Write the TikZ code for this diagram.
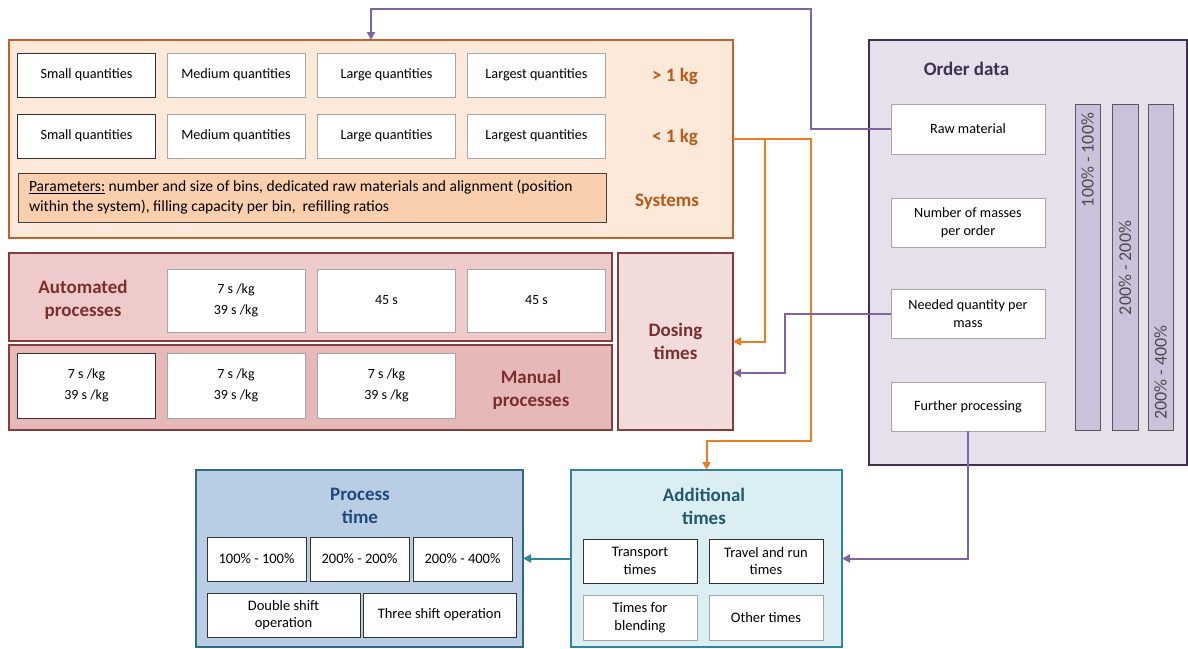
\documentclass[tikz,border=0pt]{standalone}
\usepackage{fontspec}
\setmainfont{Carlito}
\usetikzlibrary{arrows.meta}
\definecolor{sysfill}{HTML}{FDE9D9}
\definecolor{sysline}{HTML}{C0622B}
\definecolor{systext}{HTML}{B85A1A}
\definecolor{parfill}{HTML}{F9CFAD}
\definecolor{autofill}{HTML}{EECACA}
\definecolor{manfill}{HTML}{E6B9B8}
\definecolor{dosfill}{HTML}{F2DCDB}
\definecolor{redline}{HTML}{843C3C}
\definecolor{redtext}{HTML}{7B2E2E}
\definecolor{ordfill}{HTML}{E5E0EC}
\definecolor{ordline}{HTML}{403151}
\definecolor{barfill}{HTML}{CCC1DA}
\definecolor{procfill}{HTML}{B9CDE5}
\definecolor{procline}{HTML}{2F6A88}
\definecolor{proctext}{HTML}{1F497D}
\definecolor{addfill}{HTML}{DBEEF4}
\definecolor{addline}{HTML}{31859C}
\definecolor{addtext}{HTML}{215968}
\definecolor{orangeln}{HTML}{EE7D22}
\definecolor{purpleln}{HTML}{8064A2}
\begin{document}
\begin{tikzpicture}[x=1pt,y=-1pt,
  every node/.style={inner sep=0pt, outer sep=0pt},
  ibox/.style={draw=gray!70, fill=white, line width=0.8pt, minimum height=44pt, minimum width=138pt, align=center, font=\fontsize{14.2}{18}\selectfont},
  dbox/.style={ibox, draw=black!80},
  tbox/.style={font=\fontsize{14}{21}\selectfont},
  lbox/.style={font=\fontsize{14.5}{17.5}\selectfont},
  outer/.style={line width=1.3pt},
  title/.style={font=\fontsize{19}{23}\selectfont\bfseries, align=center},
  conn/.style={line width=2pt, -{Triangle[length=8pt,width=8pt]}},
  bar/.style={draw=black!65, fill=barfill, line width=0.8pt, minimum width=25pt, minimum height=326pt},
  bartext/.style={rotate=90, font=\fontsize{18}{20}\selectfont, text=black!70}
]
\useasboundingbox (0,0) rectangle (1188,648);

% ---- Systems ----
\node[outer, draw=sysline, fill=sysfill, minimum width=724pt, minimum height=198pt] (sys) at (371,139) {};
\node[dbox] (s1) at (86.5,75) {Small quantities};
\node[ibox] (s2) at (236,75) {Medium quantities};
\node[ibox] (s3) at (386.5,75) {Large quantities};
\node[ibox] (s4) at (536.5,75) {Largest quantities};
\node[dbox] (t1) at (86.5,136) {Small quantities};
\node[ibox] (t2) at (236,136) {Medium quantities};
\node[ibox] (t3) at (386.5,136) {Large quantities};
\node[ibox] (t4) at (536.5,136) {Largest quantities};
\node[draw=black!75, fill=parfill, line width=0.8pt, minimum width=588pt, minimum height=49pt] (par) at (312,197.5) {};
\node[anchor=west, align=left, font=\fontsize{15.6}{20}\selectfont] (partext) at (29,197.5)
  {\underline{Parameters:} number and size of bins, dedicated raw materials and alignment (position\\within the system), filling capacity per bin,\ \ refilling ratios};
\node[title, text=systext] (gt) at (675,76) {> 1 kg};
\node[title, text=systext] (lt) at (675,137) {< 1 kg};
\node[title, text=systext] (systitle) at (667,201.5) {Systems};

% ---- Automated / manual processes ----
\node[outer, draw=redline, fill=autofill, minimum width=603pt, minimum height=88pt] (auto) at (310.5,297) {};
\node[title, text=redtext] (autotitle) at (83,300) {Automated\\processes};
\node[ibox, tbox, minimum height=63pt] (a2) at (236,300.5) {7 s /kg\\39 s /kg};
\node[ibox, tbox, minimum height=63pt] (a3) at (386.5,300.5) {45 s};
\node[ibox, tbox, minimum height=63pt] (a4) at (536.5,300.5) {45 s};
\node[outer, draw=redline, fill=manfill, minimum width=603pt, minimum height=85pt] (man) at (310.5,387.5) {};
\node[dbox, tbox, minimum height=65pt] (m1) at (86.5,385.5) {7 s /kg\\39 s /kg};
\node[ibox, tbox, minimum height=65pt] (m2) at (236,385.5) {7 s /kg\\39 s /kg};
\node[ibox, tbox, minimum height=65pt] (m3) at (386.5,385.5) {7 s /kg\\39 s /kg};
\node[title, text=redtext] (mantitle) at (531,390) {Manual\\processes};
\node[outer, draw=redline, fill=dosfill, minimum width=115pt, minimum height=177pt] (dos) at (675.5,341.5) {};
\node[title, text=redtext] (dostitle) at (675.5,341) {Dosing\\times};

% ---- Order data ----
\node[draw=ordline, fill=ordfill, line width=2pt, minimum width=318pt, minimum height=425pt] (ord) at (1028,252.5) {};
\node[title, text=ordline] (ordtitle) at (966.5,69) {Order data};
\node[ibox, minimum width=154pt, minimum height=50pt] (raw) at (968,129) {Raw material};
\node[ibox, minimum width=154pt, minimum height=49pt] (num) at (968,222.5) {Number of masses\\per order};
\node[ibox, minimum width=154pt, minimum height=49pt] (need) at (968,314) {Needed quantity per\\mass};
\node[ibox, minimum width=154pt, minimum height=49pt] (fur) at (968,406.5) {Further processing};
\node[bar, minimum width=25pt] (b1) at (1087.5,267) {};
\node[bar, minimum width=26pt] (b2) at (1125,267) {};
\node[bar] (b3) at (1160.5,267) {};
\node[bartext] (b1t) at (1087.5,160) {100\% - 100\%};
\node[bartext] (b2t) at (1125,268) {200\% - 200\%};
\node[bartext] (b3t) at (1160.5,372.5) {200\% - 400\%};

% ---- Process time ----
\node[outer, draw=procline, fill=procfill, minimum width=327pt, minimum height=177pt] (proc) at (359.5,558.5) {};
\node[title, text=proctext] (proctitle) at (360,506) {Process\\time};
\node[dbox, lbox, minimum width=99pt] (p1) at (256.5,559) {100\% - 100\%};
\node[dbox, lbox, minimum width=99pt] (p2) at (359.5,559) {200\% - 200\%};
\node[dbox, lbox, minimum width=99pt] (p3) at (462.5,559) {200\% - 400\%};
\node[dbox, lbox, minimum width=153pt] (p4) at (283.5,615) {Double shift\\operation};
\node[dbox, lbox, minimum width=153pt] (p5) at (439.5,615) {Three shift operation};

% ---- Additional times ----
\node[outer, draw=addline, fill=addfill, minimum width=271pt, minimum height=177pt] (add) at (706.5,558.5) {};
\node[title, text=addtext] (addtitle) at (704,506) {Additional\\times};
\node[dbox, lbox, minimum width=114pt] (x1) at (640,561) {Transport\\times};
\node[dbox, lbox, minimum width=114pt] (x2) at (766,561) {Travel and run\\times};
\node[ibox, lbox, minimum width=114pt, minimum height=45pt] (x3) at (640,617.5) {Times for\\blending};
\node[ibox, lbox, minimum width=114pt, minimum height=45pt] (x4) at (766,617.5) {Other times};

% ---- Connectors ----
\coordinate (r1) at (811,129);
\coordinate (r2) at (811,9);
\coordinate (r3) at (371,9);
\draw[conn, purpleln] (raw.west) -- (r1) -- (r2) -- (r3) -- (sys.north);

\coordinate (o0) at (733,139);
\coordinate (o1) at (811,139);
\coordinate (o2) at (811,441);
\coordinate (o3) at (706.5,441);
\draw[conn, orangeln] (o0) -- (o1) -- (o2) -- (o3) -- (add.north);
\coordinate (ob) at (765,139);
\coordinate (oc) at (765,341.5);
\draw[conn, orangeln] (ob) -- (oc) -- (dos.east);

\coordinate (n1) at (785,314);
\coordinate (n2) at (785,373);
\coordinate (n3) at (733,373);
\draw[conn, purpleln] (need.west) -- (n1) -- (n2) -- (n3);

\coordinate (f1) at (968,558.5);
\draw[conn, purpleln] (fur.south) -- (f1) -- (add.east);

\draw[conn, addline] (add.west) -- (proc.east);
\end{tikzpicture}
\end{document}
